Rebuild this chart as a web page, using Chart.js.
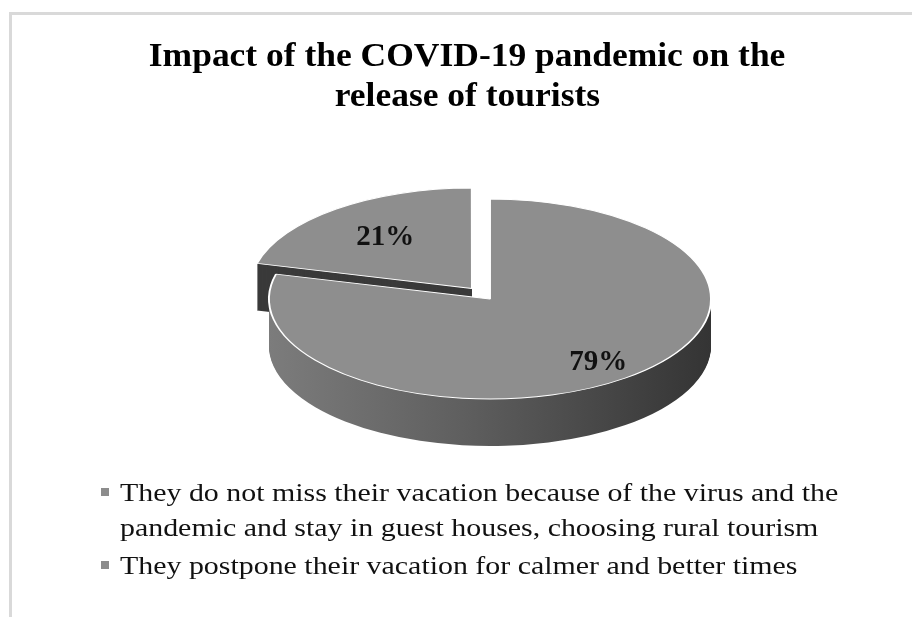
<!DOCTYPE html>
<html>
<head>
<meta charset="utf-8">
<script src="https://cdn.jsdelivr.net/npm/chart.js@4.4.1/dist/chart.umd.min.js"></script>
<style>
  html, body { margin: 0; padding: 0; background: #fff; }
  #wrap { position: relative; width: 912px; height: 617px; overflow: hidden; background: #fff; }
  #frame { position: absolute; left: 9px; top: 12px; width: 940px; height: 640px;
           border-top: 3px solid #d9d9d9; border-left: 3px solid #d9d9d9; box-sizing: border-box; }
  canvas { position: absolute; left: 0; top: 0; }
  #title { position: absolute; left: 0; top: 35px; width: 934px; text-align: center;
           font-family: 'Liberation Serif', 'Times New Roman', serif; font-weight: bold; font-size: 33px;
           line-height: 40px; color: #000; }
  #title span { display: inline-block; transform: scaleX(1.075); transform-origin: center; }
  #legend { position: absolute; left: 101px; top: 475px; font-family: 'Liberation Serif', 'Times New Roman', serif;
            font-size: 26px; color: #111; }
  .item { position: relative; padding-left: 19px; line-height: 35px; margin-bottom: 3px; white-space: nowrap; }
  .txt { display: inline-block; transform: scaleX(1.15); transform-origin: left center; }
  .mk { position: absolute; left: 0; top: 13px; width: 8px; height: 8px; }
</style>
</head>
<body>
<div id="wrap">
  <div id="frame"></div>
  <canvas id="c" width="912" height="617"></canvas>
  <div id="title"></div>
  <div id="legend"></div>
</div>
<script>
const titleLines = ['Impact of the COVID-19 pandemic on the', 'release of tourists'];
const categories = [
  ['They do not miss their vacation because of the virus and the', 'pandemic and stay in guest houses, choosing rural tourism'],
  ['They postpone their vacation for calmer and better times']
];
const values = [79, 21];
const sliceColors = ['#8e8e8e', '#8e8e8e'];
const legendColors = ['#8c8c8c', '#8c8c8c'];

// title
const titleEl = document.getElementById('title');
titleLines.forEach((ln, j) => {
  if (j) titleEl.appendChild(document.createElement('br'));
  const s = document.createElement('span');
  s.textContent = ln;
  titleEl.appendChild(s);
});

// HTML legend from the categories
const legendEl = document.getElementById('legend');
categories.forEach((cat, i) => {
  const d = document.createElement('div');
  d.className = 'item';
  const m = document.createElement('span');
  m.className = 'mk';
  m.style.background = legendColors[i];
  d.appendChild(m);
  const t = document.createElement('span');
  t.className = 'txt';
  const lines = Array.isArray(cat) ? cat : [cat];
  lines.forEach((ln, j) => {
    if (j) t.appendChild(document.createElement('br'));
    t.appendChild(document.createTextNode(ln));
  });
  d.appendChild(t);
  legendEl.appendChild(d);
});

const pie3d = {
  id: 'pie3d',
  _map(chart, opts) {
    const el = chart.getDatasetMeta(0).data[0];
    const cx = el.x, cy = el.y, R = el.outerRadius;
    return { cx, cy, R, sx: opts.rx / R, sy: opts.ry / R };
  },
  beforeDatasetsDraw(chart, args, opts) {
    const ctx = chart.ctx;
    const els = chart.getDatasetMeta(0).data;
    const m = this._map(chart, opts);
    const apply = (dy) => {
      ctx.translate(opts.cx, opts.cy + dy);
      ctx.scale(m.sx, m.sy);
      ctx.translate(-m.cx, -m.cy);
    };
    const order = els.map((e, i) => i).reverse();
    order.forEach(i => {
      const el = els[i];
      for (let d = opts.depth; d >= 1; d--) {
        ctx.save();
        apply(d);
        let fill;
        if (i === 0) {
          const g = ctx.createLinearGradient(m.cx - m.R, 0, m.cx + m.R, 0);
          g.addColorStop(0, '#7c7c7c');
          g.addColorStop(0.45, '#5e5e5e');
          g.addColorStop(1, '#343434');
          fill = g;
        } else {
          fill = '#3a3a3a';
        }
        const f = Object.create(el);
        f.options = Object.assign({}, el.options, { backgroundColor: fill, borderWidth: 0, borderColor: 'rgba(0,0,0,0)' });
        f.draw(ctx);
        ctx.restore();
      }
      ctx.save();
      apply(0);
      el.draw(ctx);
      ctx.restore();
    });
    return false;
  },
  afterDraw(chart, args, opts) {
    const ctx = chart.ctx;
    const els = chart.getDatasetMeta(0).data;
    const m = this._map(chart, opts);
    ctx.save();
    ctx.font = 'bold 29px "Liberation Serif", "Times New Roman", serif';
    ctx.fillStyle = '#111';
    ctx.textAlign = 'center';
    ctx.textBaseline = 'middle';
    els.forEach((el, i) => {
      const mid = (el.startAngle + el.endAngle) / 2;
      const off = (el.options.offset || 0) / 4;
      const r = opts.labelRadius[i] * m.R + off;
      const px = m.cx + Math.cos(mid) * r;
      const py = m.cy + Math.sin(mid) * r;
      const X = opts.cx + (px - m.cx) * m.sx;
      const Y = opts.cy + (py - m.cy) * m.sy;
      ctx.fillText(chart.data.datasets[0].data[i] + '%', X, Y);
    });
    ctx.restore();
  }
};

new Chart(document.getElementById('c'), {
  type: 'pie',
  data: {
    labels: categories,
    datasets: [{
      data: values,
      backgroundColor: sliceColors,
      borderColor: '#ffffff',
      borderWidth: 1.3,
      offset: [0, 80]
    }]
  },
  plugins: [pie3d],
  options: {
    responsive: false,
    animation: false,
    radius: 150,
    layout: { padding: { top: 120, bottom: 150 } },
    plugins: {
      legend: { display: false },
      tooltip: { enabled: false },
      title: { display: false },
      pie3d: { cx: 490, cy: 299, rx: 221, ry: 100, depth: 47, labelRadius: [0.8, 0.64] }
    }
  }
});
</script>
</body>
</html>
